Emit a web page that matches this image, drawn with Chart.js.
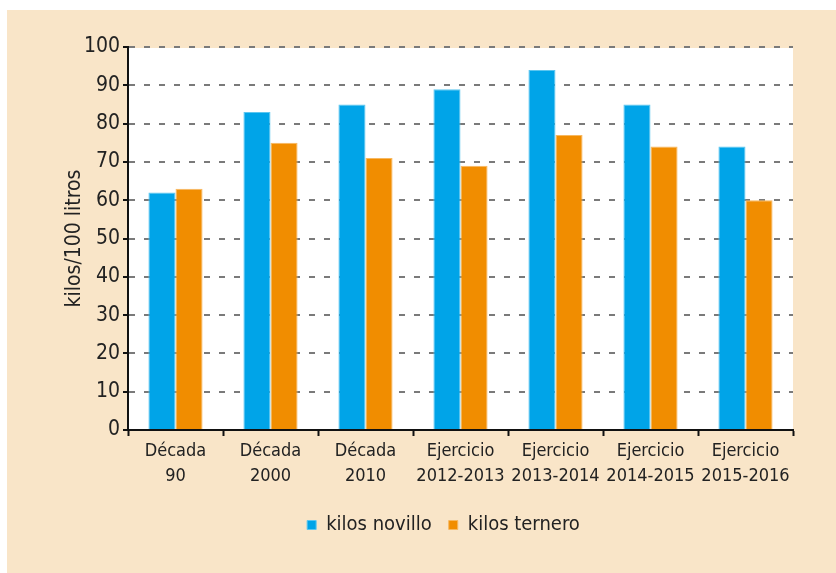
<!DOCTYPE html>
<html>
<head>
<meta charset="utf-8">
<script src="https://cdn.jsdelivr.net/npm/chart.js@4.4.1/dist/chart.umd.min.js"></script>
<style>
  html, body { margin: 0; padding: 0; background: #ffffff; }
  #wrap { position: absolute; left: 7px; top: 10px; width: 829px; height: 563px; background: #f9e5c8; }
</style>
</head>
<body>
<div id="wrap"><canvas id="myChart" width="829" height="563"></canvas></div>
<script>
// Datos
const categorias = [['Década', '90'], ['Década', '2000'], ['Década', '2010'],
  ['Ejercicio', '2012-2013'], ['Ejercicio', '2013-2014'], ['Ejercicio', '2014-2015'], ['Ejercicio', '2015-2016']];
const kilosNovillo = [62, 83, 85, 89, 94, 85, 74];
const kilosTernero = [63, 75, 71, 69, 77, 74, 60];

const fuente = "'Liberation Sans Narrow', 'DejaVu Sans Condensed', 'Roboto Condensed', sans-serif";

// Fondo blanco solo dentro del área de la gráfica
const fondoArea = {
  id: 'fondoArea',
  beforeDraw(chart) {
    const { ctx, chartArea } = chart;
    ctx.save();
    ctx.fillStyle = '#ffffff';
    ctx.fillRect(chartArea.left, chartArea.top + 1, chartArea.right - chartArea.left, chartArea.bottom - chartArea.top - 1);
    ctx.restore();
  }
};

// Mover la leyenda un poco a la derecha (como en el original)
const moverLeyenda = {
  id: 'moverLeyenda',
  afterLayout(chart) {
    if (chart.legend) {
      chart.legend.left += 18;
      chart.legend.right += 18;
    }
  }
};

const ctx = document.getElementById('myChart').getContext('2d');
new Chart(ctx, {
  type: 'bar',
  data: {
    labels: categorias,
    datasets: [
      {
        label: 'kilos novillo',
        data: kilosNovillo,
        backgroundColor: '#00a4e8',
        borderColor: '#5cc6f0',
        borderWidth: 1
      },
      {
        label: 'kilos ternero',
        data: kilosTernero,
        backgroundColor: '#f18d00',
        borderColor: '#f7b860',
        borderWidth: 1
      }
    ]
  },
  options: {
    responsive: false,
    animation: false,
    categoryPercentage: 0.57,
    barPercentage: 1.0,
    layout: { padding: { left: 51, right: 43, top: 37, bottom: 28 } },
    plugins: {
      legend: {
        position: 'bottom',
        labels: {
          boxWidth: 9,
          boxHeight: 9,
          padding: 17,
          color: '#222',
          font: { family: fuente, size: 20 }
        }
      },
      tooltip: { enabled: false }
    },
    scales: {
      x: {
        afterFit: (s) => { s.height = 68; },
        grid: {
          offset: true,
          drawOnChartArea: false,
          drawTicks: true,
          tickLength: 6,
          tickColor: '#111',
          tickWidth: 2
        },
        border: { color: '#111', width: 2 },
        ticks: {
          color: '#222',
          font: { family: fuente, size: 18, lineHeight: 1.4 },
          maxRotation: 0,
          autoSkip: false
        }
      },
      y: {
        min: 0,
        max: 100,
        afterFit: (s) => { s.width = 70; },
        title: {
          display: true,
          text: 'kilos/100 litros',
          color: '#222',
          font: { family: fuente, size: 21 }
        },
        grid: {
          color: '#7a7a7a',
          lineWidth: 2,
          tickColor: '#111',
          tickLength: 5,
          tickWidth: 2,
          tickBorderDash: []
        },
        // líneas de rejilla discontinuas
        border: { color: '#111', width: 2, dash: [6, 9] },
        ticks: {
          stepSize: 10,
          padding: 3,
          color: '#222',
          font: { family: fuente, size: 21 }
        }
      }
    }
  },
  plugins: [fondoArea, moverLeyenda]
});
</script>
</body>
</html>
